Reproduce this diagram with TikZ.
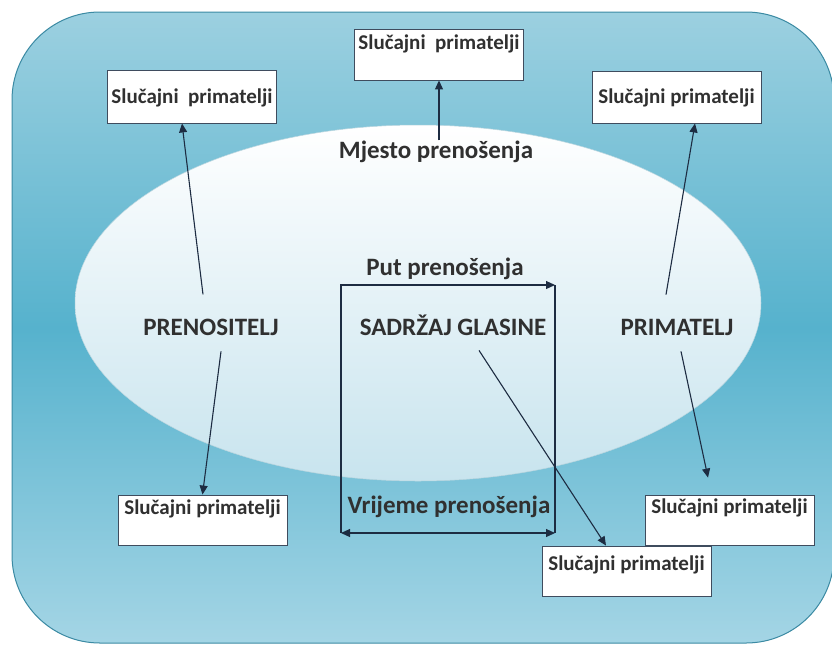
\documentclass[tikz,border=0pt]{standalone}
\usepackage{fontspec}
\setmainfont{Carlito}
\usetikzlibrary{positioning,arrows.meta,calc}
\definecolor{cBgTop}{RGB}{156,208,224}
\definecolor{cBgMid}{RGB}{86,178,205}
\definecolor{cBgBot}{RGB}{164,213,229}
\definecolor{cEdge} {HTML}{3b8aa3}
\definecolor{cOval} {RGB}{200,228,238}
\definecolor{cLine} {HTML}{1d2c42}
\definecolor{cTxt}  {HTML}{303030}
\tikzset{
  >={Triangle[length=9pt,width=8pt]},
  rbox/.style 2 args={draw=cLine!85,fill=white,line width=0.9pt,inner sep=0pt,
               minimum width=169pt,text height=#1,text depth=#2,
               font=\fontsize{21}{24}\selectfont\bfseries,text=cTxt},
  slab/.style={inner sep=0pt,anchor=base,text=cTxt,
               font=\fontsize{25}{28}\selectfont\bfseries},
  sar/.style ={->,line width=1.1pt,cLine},
}
\begin{document}
\begin{tikzpicture}[x=1pt,y=-1pt]
        \useasboundingbox (0,0) rectangle (832,646);
        % background and oval
        \shade[top color=cBgTop,bottom color=cBgBot,middle color=cBgMid,rounded corners=88pt]
          (12,12) rectangle (834,643);
        \draw[cEdge,line width=1pt,rounded corners=88pt] (12,12) rectangle (834,643);
        \shade[top color=white,bottom color=cOval,draw=cEdge!35,line width=0.5pt]
          (418,303) ellipse [x radius=343,y radius=178];
        % labels
        \node[slab] (mj) at (436,158) {Mjesto prenošenja};
        \node[slab] (put) at (445,275) {Put prenošenja};
        \node[slab] (pren) at (211,335) {PRENOSITELJ};
        \node[slab] (sadr) at (453,335) {SADRŽAJ GLASINE};
        \node[slab] (prim) at (677,335) {PRIMATELJ};
        \node[slab] (vr) at (449,513) {Vrijeme prenošenja};
        % boxes
        \node[rbox={20pt}{31pt}] (bt) at (439,54.5) {Slučajni\ \ primatelji};
        \node[rbox={33pt}{20pt}] (btl) at (192,96.5) {Slučajni\ \ primatelji};
        \node[rbox={32pt}{20pt}] (btr) at (676.5,97) {Slučajni primatelji};
        \node[rbox={19pt}{31pt}] (bbl) at (202.5,520) {Slučajni primatelji};
        \node[rbox={18pt}{32pt}] (bbr) at (729.5,520) {Slučajni primatelji};
        \node[rbox={24pt}{26pt}] (bbc) at (626.5,571) {Slučajni primatelji};
        % frame round the content
        \coordinate (ptl) at (341,285);
        \coordinate (ptr) at (555,285);
        \coordinate (pbl) at (341,533);
        \coordinate (pbr) at (555,533);
        \draw[sar] (pbl)--(ptl)--(ptr);
        \draw[sar,-] (ptr)--(pbr);
        \draw[sar,<->] (pbl)--(pbr);
        % arrows
        \draw[sar] (mj.north -| bt.south)--(bt.south);
        \draw[sar] ([xshift=-8pt,yshift=24pt]pren.north)--([xshift=-10pt]btl.south);
        \draw[sar] ([xshift=-11pt,yshift=24pt]prim.north)--([xshift=18.5pt]btr.south);
        \draw[sar] ([xshift=10pt,yshift=-16pt]pren.south)--(bbl.north);
        \draw[sar] ([xshift=4pt,yshift=-16pt]prim.south)--([xshift=-21.5pt,yshift=17pt]bbr.north);
        \draw[sar] ([xshift=26pt,yshift=-15pt]sadr.south)--([xshift=-20.5pt]bbc.north);
      \end{tikzpicture}
\end{document}
